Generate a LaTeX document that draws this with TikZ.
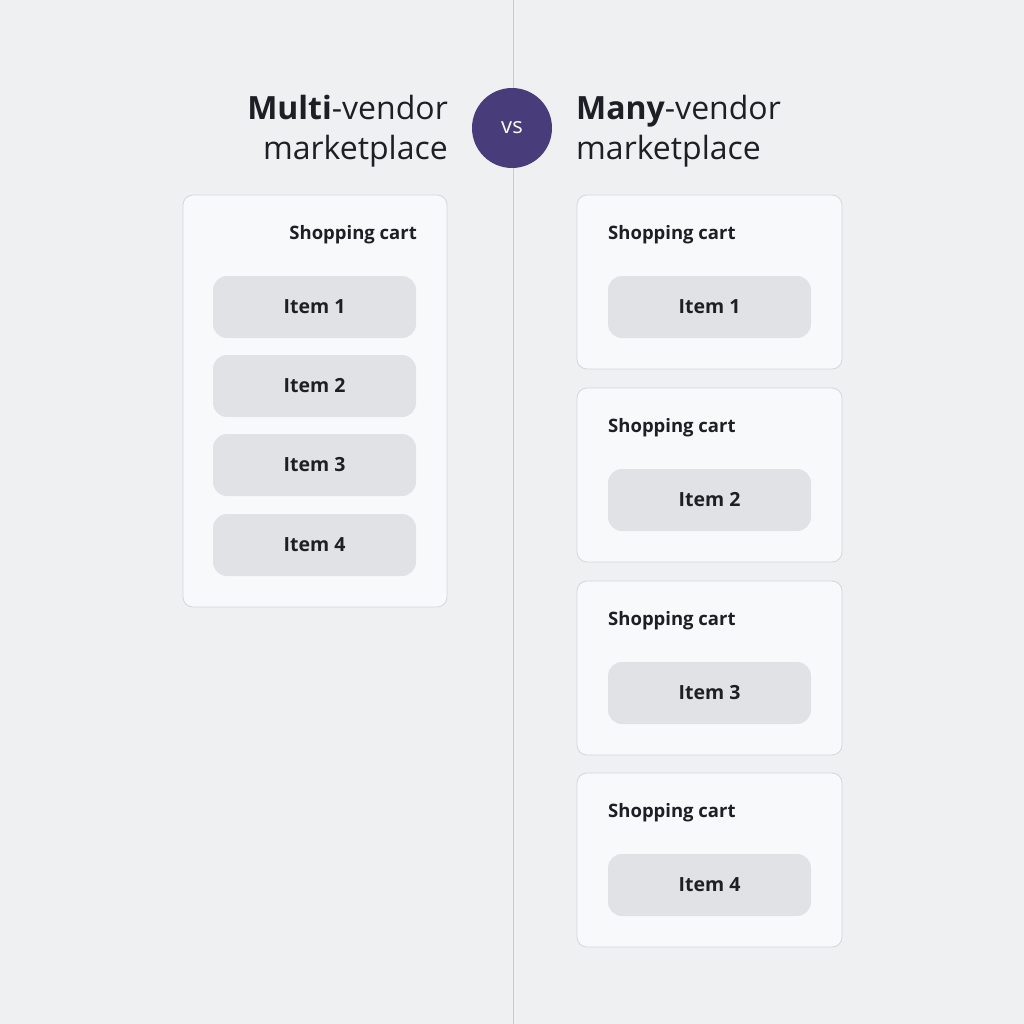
\documentclass[tikz,border=0pt]{standalone}
\usepackage{fontspec}
\setmainfont{Open Sans}
\usetikzlibrary{positioning}
\definecolor{bg}{HTML}{EFF0F2}
\definecolor{cardf}{HTML}{F8F9FA}
\definecolor{cardd}{HTML}{D4D6DC}
\definecolor{itemf}{HTML}{E0E2E6}
\definecolor{vsc}{HTML}{483D7A}
\definecolor{txt}{HTML}{1E1E24}
\definecolor{linec}{HTML}{C8CAD8}
\tikzset{
 card/.style={draw=cardd,fill=cardf,rounded corners=10pt,line width=0.8pt},
 itembox/.style={fill=itemf,rounded corners=14pt,draw=none},
 itemlbl/.style={font=\fontsize{19.5}{22}\selectfont\bfseries,text=txt},
 cartlbl/.style={font=\fontsize{18.5}{20}\selectfont\bfseries,text=txt},
 title/.style={font=\fontsize{32}{40}\selectfont,text=txt,inner sep=0pt,align=left}
}
\begin{document}
\begin{tikzpicture}[x=1pt,y=-1pt]
\fill[bg] (0,0) rectangle (1024,1024);
\useasboundingbox (0,0) rectangle (1024,1024);
\coordinate (lt) at (513,0); \coordinate (lb) at (513,1024);
\draw[linec,line width=1pt] (lt) -- (lb);
\node[circle,fill=vsc,minimum size=80pt,text=white,font=\fontsize{22}{24}\selectfont] (vs) at (512,128) {vs};
\node[title,anchor=east,align=right] (tl) at (448,131) {\textbf{Multi}-vendor\\marketplace};
\node[title,anchor=west] (tr) at (576,131) {\textbf{Many}-vendor\\marketplace};
% left card
\draw[card] (183,195) rectangle (447,607);
\node[cartlbl,anchor=east,inner sep=0pt] (lc) at (417,235) {Shopping cart};
\foreach \i/\y in {1/276,2/355,3/434,4/514}{
 \fill[itembox] (213,\y) rectangle (416,\y+62);
 \node[itemlbl] (li\i) at (314.5,\y+31) {Item \i};
}
% right cards
\foreach \i/\y in {1/195,2/388,3/581,4/773}{
 \draw[card] (577,\y) rectangle (842,\y+174);
 \node[cartlbl,anchor=west,inner sep=0pt] (rc\i) at (608,\y+40) {Shopping cart};
 \fill[itembox] (608,\y+81) rectangle (811,\y+143);
 \node[itemlbl] (ri\i) at (709.5,\y+112) {Item \i};
}
\end{tikzpicture}
\end{document}
